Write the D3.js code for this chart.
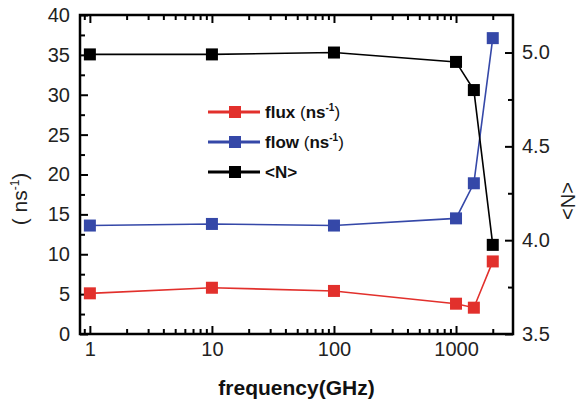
<!DOCTYPE html>
<html>
<head>
<meta charset="utf-8">
<script src="https://cdn.jsdelivr.net/npm/d3@7"></script>
<style>
  body { margin: 0; background: #fff; }
  svg { font-family: "Liberation Sans", Arial, sans-serif; }
</style>
</head>
<body>
<svg id="chart" width="583" height="402"></svg>
<script>
const freq = [1, 10, 100, 1000, 1400, 2000];
const flux = [5.1, 5.8, 5.4, 3.8, 3.3, 9.1];
const flow = [13.6, 13.8, 13.6, 14.5, 18.9, 37.1];
const avgN = [4.99, 4.99, 5.0, 4.95, 4.80, 3.975];
const xTicks = [1, 10, 100, 1000];
const leftTicks = [0, 5, 10, 15, 20, 25, 30, 35, 40];
const rightTicks = [3.5, 4.0, 4.5, 5.0];
const legendNames = ['flux', 'flow', '<N>'];

const margin = { top: 15, right: 70, bottom: 68, left: 80 };
const W = 583, H = 402;
const width = W - margin.left - margin.right;
const height = H - margin.top - margin.bottom;

const svg = d3.select('#chart');
const g = svg.append('g').attr('transform', `translate(${margin.left},${margin.top})`);

const x = d3.scaleLog().domain([0.83, 2930]).range([0, width]);
const yL = d3.scaleLinear().domain([0, 40]).range([height, 0]);
const yR = d3.scaleLinear().domain([3.5, 5.2]).range([height, 0]);

// minor ticks on x (2..9 of each decade)
const xMinor = [];
for (let dec = 0.1; dec <= 1000; dec *= 10) {
  for (let k = 2; k <= 9; k++) {
    const v = Math.round(dec * k * 1000) / 1000;
    if (v >= 0.83 && v <= 2930) xMinor.push(v);
  }
}

const axisStroke = 2.5;
const tickFont = '20px';

function styleAxis(sel) {
  sel.select('.domain').remove();
  sel.selectAll('line').attr('stroke', '#000').attr('stroke-width', 2);
  sel.selectAll('text').style('font-size', tickFont).attr('fill', '#222');
}

// bottom x axis
g.append('g').attr('transform', `translate(0,${height})`)
  .call(d3.axisBottom(x).tickValues(xTicks).tickFormat(d3.format('d')).tickSizeInner(-8).tickSizeOuter(0).tickPadding(8))
  .call(styleAxis);
g.append('g').attr('transform', `translate(0,${height})`)
  .call(d3.axisBottom(x).tickValues(xMinor).tickFormat('').tickSizeInner(-5).tickSizeOuter(0))
  .call(styleAxis);
// top x axis ticks
g.append('g')
  .call(d3.axisTop(x).tickValues(xTicks).tickFormat('').tickSizeInner(-8).tickSizeOuter(0))
  .call(styleAxis);
g.append('g')
  .call(d3.axisTop(x).tickValues(xMinor).tickFormat('').tickSizeInner(-5).tickSizeOuter(0))
  .call(styleAxis);

// left y
g.append('g')
  .call(d3.axisLeft(yL).tickValues(leftTicks).tickSizeInner(-8).tickSizeOuter(0).tickPadding(10))
  .call(styleAxis);
g.append('g')
  .call(d3.axisLeft(yL).tickValues(d3.range(2.5, 40, 5)).tickFormat('').tickSizeInner(-5).tickSizeOuter(0))
  .call(styleAxis);

// right y
g.append('g').attr('transform', `translate(${width},0)`)
  .call(d3.axisRight(yR).tickValues(rightTicks).tickFormat(d3.format('.1f')).tickSizeInner(-8).tickSizeOuter(0).tickPadding(9))
  .call(styleAxis);
g.append('g').attr('transform', `translate(${width},0)`)
  .call(d3.axisRight(yR).tickValues([3.75, 4.25, 4.75]).tickFormat('').tickSizeInner(-5).tickSizeOuter(0))
  .call(styleAxis);

// frame
g.append('rect').attr('x', 0).attr('y', 0).attr('width', width).attr('height', height)
  .attr('fill', 'none').attr('stroke', '#000').attr('stroke-width', axisStroke);

const series = [
  { vals: flux, y: yL, color: '#e2302c' },
  { vals: flow, y: yL, color: '#3548a8' },
  { vals: avgN, y: yR, color: '#000' }
];

const ms = 12;
series.forEach(s => {
  const pts = freq.map((f, i) => [x(f), s.y(s.vals[i])]);
  g.append('path').datum(pts)
    .attr('d', d3.line())
    .attr('fill', 'none').attr('stroke', s.color).attr('stroke-width', 1.6);
  g.selectAll(null).data(pts).enter().append('rect')
    .attr('x', d => d[0] - ms / 2).attr('y', d => d[1] - ms / 2)
    .attr('width', ms).attr('height', ms)
    .attr('fill', s.color);
});

// legend
const leg = g.append('g').attr('transform', `translate(${208 - margin.left},${112 - margin.top})`);
series.forEach((s, i) => {
  const row = leg.append('g').attr('transform', `translate(0,${i * 30})`);
  row.append('line').attr('x1', 0).attr('x2', 52).attr('y1', 0).attr('y2', 0)
    .attr('stroke', s.color).attr('stroke-width', 3);
  row.append('rect').attr('x', 27 - 6).attr('y', -6).attr('width', 12).attr('height', 12).attr('fill', s.color);
  const t = row.append('text').attr('x', 57).attr('y', 6)
    .style('font-size', '17px').style('font-weight', 'bold').attr('fill', '#111');
  t.append('tspan').text(legendNames[i]);
  if (i < 2) {
    t.append('tspan').style('font-weight', 'normal').text(' (');
    t.append('tspan').text('ns');
    t.append('tspan').attr('dy', -7).style('font-size', '10px').text('-1');
    t.append('tspan').attr('dy', 7).style('font-weight', 'normal').text(')');
  }
});

// axis titles
svg.append('text').attr('x', margin.left + width / 2).attr('y', 395)
  .attr('text-anchor', 'middle').style('font-size', '21px').style('font-weight', 'bold').attr('fill', '#111')
  .text('frequency(GHz)');

const lt = svg.append('text').attr('transform', `translate(27,199) rotate(-90)`)
  .attr('text-anchor', 'middle').style('font-size', '21px').attr('fill', '#222');
lt.append('tspan').text('( ns');
lt.append('tspan').attr('dy', -8).style('font-size', '12px').text('-1');
lt.append('tspan').attr('dy', 8).text(')');

svg.append('text').attr('transform', `translate(561,201) rotate(90)`)
  .attr('text-anchor', 'middle').style('font-size', '20px').attr('fill', '#222')
  .text('<N>');
</script>
</body>
</html>
